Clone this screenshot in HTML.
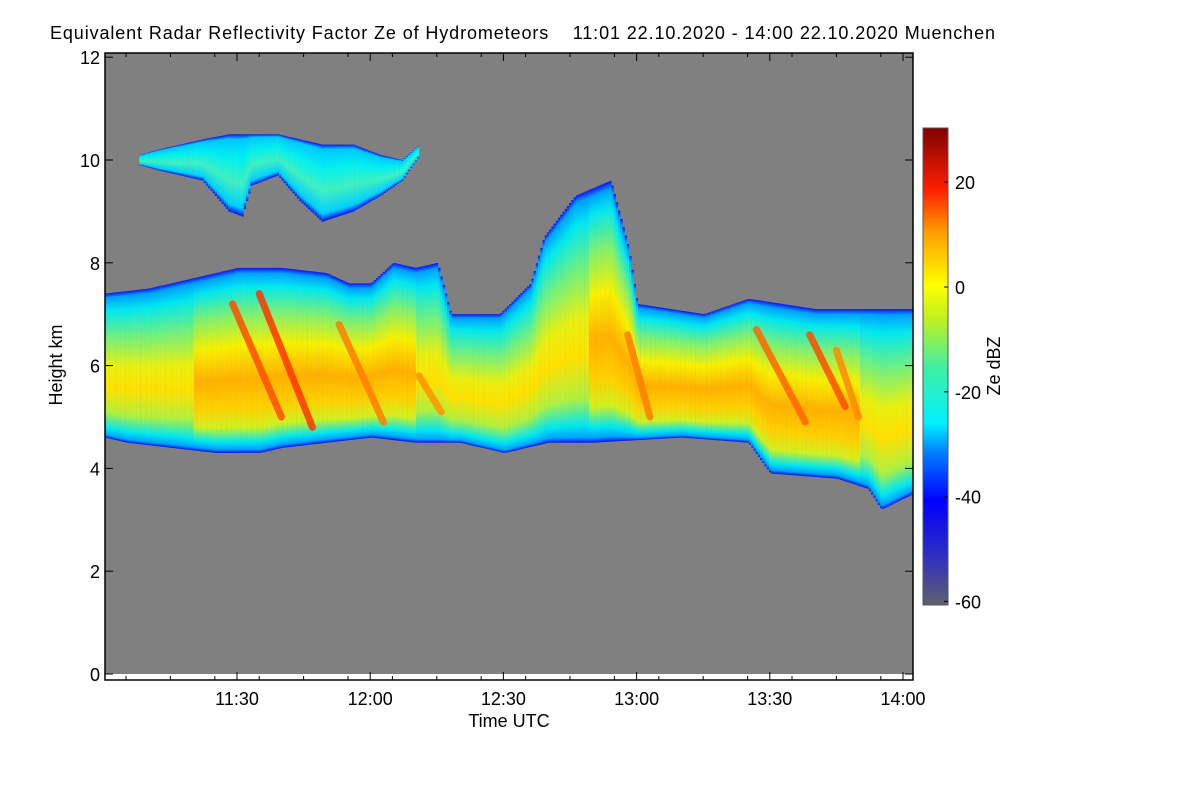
<!DOCTYPE html>
<html><head><meta charset="utf-8">
<style>
body{margin:0;background:#fff;}
svg{display:block;font-family:"Liberation Sans",Helvetica,Arial,sans-serif;}
</style></head>
<body>
<svg id="chart" width="1200" height="800" viewBox="0 0 1200 800">
<defs>
<linearGradient id="colStrong" x1="0" y1="0" x2="0" y2="1">
<stop offset="0" stop-color="#1010f0"/><stop offset="0.03" stop-color="#00a0ff"/><stop offset="0.1" stop-color="#00e8f0"/>
<stop offset="0.25" stop-color="#80f070"/><stop offset="0.42" stop-color="#f8f000"/><stop offset="0.6" stop-color="#ffb000"/>
<stop offset="0.75" stop-color="#ffd000"/><stop offset="0.86" stop-color="#d0f020"/><stop offset="0.94" stop-color="#00e8f0"/>
<stop offset="0.98" stop-color="#00a0ff"/><stop offset="1" stop-color="#1010f0"/>
</linearGradient>
<linearGradient id="colWeak" x1="0" y1="0" x2="0" y2="1">
<stop offset="0" stop-color="#1010f0"/><stop offset="0.03" stop-color="#00a0ff"/><stop offset="0.12" stop-color="#00e8f0"/>
<stop offset="0.3" stop-color="#70f080"/><stop offset="0.5" stop-color="#e8f010"/><stop offset="0.65" stop-color="#ffe000"/>
<stop offset="0.82" stop-color="#b0f040"/><stop offset="0.93" stop-color="#00e8f0"/><stop offset="0.98" stop-color="#00a0ff"/><stop offset="1" stop-color="#1010f0"/>
</linearGradient>
<linearGradient id="cirrus" x1="0" y1="0" x2="0" y2="1">
<stop offset="0" stop-color="#1010f0"/><stop offset="0.06" stop-color="#00c8ff"/><stop offset="0.3" stop-color="#00f0f0"/>
<stop offset="0.6" stop-color="#40f0c0"/><stop offset="0.9" stop-color="#00d0ff"/><stop offset="1" stop-color="#1010f0"/>
</linearGradient>
<linearGradient id="cbar" x1="0" y1="1" x2="0" y2="0">
<stop offset="0" stop-color="#606070"/><stop offset="0.1" stop-color="#3030c0"/><stop offset="0.22" stop-color="#0000ff"/>
<stop offset="0.32" stop-color="#0080ff"/><stop offset="0.38" stop-color="#00f0ff"/><stop offset="0.5" stop-color="#40f0a0"/>
<stop offset="0.6" stop-color="#c0f020"/><stop offset="0.67" stop-color="#ffff00"/><stop offset="0.78" stop-color="#ffa000"/>
<stop offset="0.87" stop-color="#ff2000"/><stop offset="1" stop-color="#800000"/>
</linearGradient>
</defs>
<text x="50" y="39" font-size="18" textLength="945" lengthAdjust="spacing" style="white-space:pre">Equivalent Radar Reflectivity Factor Ze of Hydrometeors    11:01 22.10.2020 - 14:00 22.10.2020 Muenchen</text>
<rect x="105" y="53" width="808" height="621" fill="#808080"/>
<g id="cloud"></g>
<g id="streaks"></g>
<g id="axes"></g>
<rect x="923" y="128" width="25" height="477" fill="url(#cbar)" stroke="#555"/>
<g id="cbticks"></g>
<text x="1000" y="366" font-size="18" text-anchor="middle" transform="rotate(-90 1000 366)">Ze dBZ</text>
<text x="509" y="727" font-size="18" text-anchor="middle">Time UTC</text>
<text x="62" y="365" font-size="18" text-anchor="middle" transform="rotate(-90 62 365)">Height km</text>
</svg>
<script>
// minutes after 11:00
const topTimes=[0,10,20,30,40,50,55,60,65,70,75,78,89,96,99,106,114,118,120,135,145,160,182];
const topKm=[7.4,7.5,7.7,7.9,7.9,7.8,7.6,7.6,8.0,7.9,8.0,7.0,7.0,7.6,8.5,9.3,9.6,8.3,7.2,7.0,7.3,7.1,7.1];
const baseTimes=[0,5,15,25,35,40,50,60,70,80,90,100,110,130,145,150,165,172,175,182];
const baseKm=[4.6,4.5,4.4,4.3,4.3,4.4,4.5,4.6,4.5,4.5,4.3,4.5,4.5,4.6,4.5,3.9,3.8,3.6,3.2,3.5];
const strongTimes=[0,20,25,35,45,60,70,80,100,115,125,140,150,170,182];
const strongVal=[0.5,0.6,0.9,0.9,0.8,0.8,0.6,0.4,0.3,0.8,0.6,0.7,0.8,0.6,0.5];
const cirrusTimes=[8,12,22,28,31,33,39,44,49,56,62,67,71];
const cirrusTop=[10.1,10.2,10.4,10.5,10.5,10.5,10.5,10.4,10.3,10.3,10.1,10.0,10.3];
const cirrusBase=[9.9,9.8,9.6,9.0,8.9,9.5,9.7,9.2,8.8,9.0,9.3,9.6,10.1];
// streaks: start time, start km, end time, end km, dBZ
const streakT0=[29,35,53,71,118,147,159,165];
const streakH0=[7.2,7.4,6.8,5.8,6.6,6.7,6.6,6.3];
const streakT1=[40,47,63,76,123,158,167,170];
const streakH1=[5.0,4.8,4.9,5.1,5.0,4.9,5.2,5.0];
const streakDbz=[14,16,10,8,10,12,14,9];
const yTicks=[0,2,4,6,8,10,12];
const xTickMin=[30,60,90,120,150,180];
const xTickLab=["11:30","12:00","12:30","13:00","13:30","14:00"];
const cbTicks=[20,0,-20,-40,-60];

const NS="http://www.w3.org/2000/svg";
const X=t=>237+(t-30)*4.44;
const Y=h=>674-h*51.4;
const CB=d=>287-d*5.24;
function interp(ts,vs,t){if(t<=ts[0])return vs[0];for(let i=1;i<ts.length;i++){if(t<=ts[i]){const f=(t-ts[i-1])/(ts[i]-ts[i-1]);return vs[i-1]+f*(vs[i]-vs[i-1]);}}return vs[vs.length-1];}
function mk(tag,attrs,parent){const e=document.createElementNS(NS,tag);for(const k in attrs)e.setAttribute(k,attrs[k]);parent.appendChild(e);return e;}
function dbzColor(d){const stops=[[-60,[96,96,112]],[-40,[0,0,255]],[-27,[0,240,255]],[-10,[150,240,40]],[0,[255,255,0]],[8,[255,150,0]],[18,[255,30,0]],[30,[128,0,0]]];
for(let i=1;i<stops.length;i++){if(d<=stops[i][0]){const a=stops[i-1],b=stops[i];const f=(d-a[0])/(b[0]-a[0]);return 'rgb('+a[1].map((c,j)=>Math.round(c+f*(b[1][j]-c))).join(',')+')';}}return 'rgb(128,0,0)';}

const cloud=document.getElementById('cloud');
for(let t=0.3;t<182;t+=0.5){
  const top=interp(topTimes,topKm,t),base=interp(baseTimes,baseKm,t),s=interp(strongTimes,strongVal,t);
  const r=mk('rect',{x:X(t).toFixed(1),y:Y(top).toFixed(1),width:2.4,height:(Y(base)-Y(top)).toFixed(1),fill:s>0.6?'url(#colStrong)':'url(#colWeak)'},cloud);
  
  
}
for(let t=cirrusTimes[0];t<cirrusTimes[cirrusTimes.length-1];t+=0.5){
  const tp=interp(cirrusTimes,cirrusTop,t),bs=interp(cirrusTimes,cirrusBase,t);
  const r=mk('rect',{x:X(t).toFixed(1),y:Y(tp).toFixed(1),width:2.4,height:(Y(bs)-Y(tp)).toFixed(1),fill:'url(#cirrus)'},cloud);
  
  
}
const st=document.getElementById('streaks');
for(let i=0;i<streakT0.length;i++){
  const l=mk('line',{x1:X(streakT0[i]),y1:Y(streakH0[i]),x2:X(streakT1[i]),y2:Y(streakH1[i]),stroke:dbzColor(streakDbz[i]),'stroke-width':7,'stroke-linecap':'round',opacity:0.85},st);
  
  
}
const ax=document.getElementById('axes');
mk('rect',{x:105,y:53,width:808,height:627,fill:'none',stroke:'#000','stroke-width':1.5},ax);
yTicks.forEach(h=>{
  mk('line',{x1:105,x2:113,y1:Y(h),y2:Y(h),stroke:'#000'},ax);
  mk('line',{x1:913,x2:905,y1:Y(h),y2:Y(h),stroke:'#000'},ax);
  const tx=mk('text',{x:100,y:Y(h)+7,'font-size':18,'text-anchor':'end'},ax);
  tx.textContent=h;
  
  
});
for(let m=5;m<182;m+=10){mk('line',{x1:X(m),x2:X(m),y1:680,y2:676,stroke:'#000'},ax);mk('line',{x1:X(m),x2:X(m),y1:53,y2:57,stroke:'#000'},ax);}
xTickMin.forEach((m,i)=>{
  mk('line',{x1:X(m),x2:X(m),y1:680,y2:672,stroke:'#000'},ax);
  mk('line',{x1:X(m),x2:X(m),y1:53,y2:61,stroke:'#000'},ax);
  const tx=mk('text',{x:X(m),y:705,'font-size':18,'text-anchor':'middle'},ax);
  tx.textContent=xTickLab[i];
  
  
});
const cb=document.getElementById('cbticks');
cbTicks.forEach(d=>{
  mk('line',{x1:944,x2:948,y1:CB(d),y2:CB(d),stroke:'#000'},cb);
  const tx=mk('text',{x:955,y:CB(d)+7,'font-size':18},cb);
  tx.textContent=d;
  
  
});
</script>
</body></html>
